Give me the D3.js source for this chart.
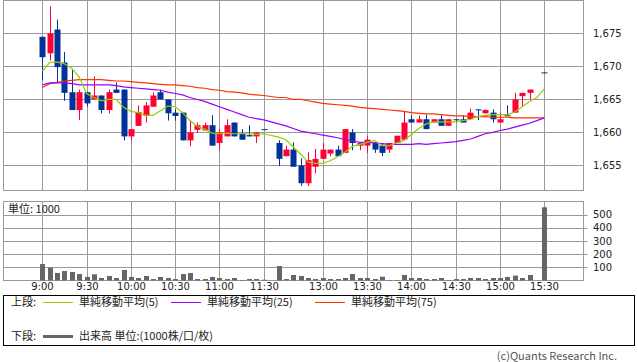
<!DOCTYPE html>
<html>
<head>
<meta charset="utf-8">
<script src="https://cdn.jsdelivr.net/npm/d3@7/dist/d3.min.js"></script>
<style>
  body { margin: 0; background: #fff; }
  svg text { font-family: "Noto Sans CJK JP", "Noto Sans", sans-serif; font-size: 11px; fill: #222; }
  svg text.num { font-family: "DejaVu Sans", sans-serif; font-size: 10px; }
</style>
</head>
<body>
<svg id="chart" width="638" height="362"></svg>
<script>
// 5-minute slots: 0 = 9:00 ... 30 = 11:30, 31 = lunch gap, 32 = 12:30 ... 68 = 15:30
const slotCount = 69;
const timeTicks = [0, 6, 12, 18, 24, 30, 38, 44, 50, 56, 62, 68];
const timeLabels = ["9:00", "9:30", "10:00", "10:30", "11:00", "11:30", "13:00", "13:30", "14:00", "14:30", "15:00", "15:30"];
const priceTicks = [1655, 1660, 1665, 1670, 1675];
const volumeTicks = [100, 200, 300, 400, 500];

const opens = [
  1674.5, 1672.0, 1675.6, 1670.6, 1666.1, 1663.4, 1666.1, 1665.0, 1665.6, 1663.4,
  1666.5, 1666.5, 1659.4, 1661.0, 1662.5, 1663.9, 1666.1, 1665.0, 1663.0, 1663.0,
  1658.8, 1660.4, 1660.3, 1661.1, 1658.4, 1659.4, 1661.5, 1659.8, 1659.6, 1659.4,
  1660.5, null, 1658.4, 1656.4, 1657.4, 1655.0, 1652.3, 1654.8, 1656.0, 1656.8,
  1657.4, 1656.9, 1660.0, 1658.0, 1658.0, 1658.5, 1658.0, 1657.4, 1658.4, 1658.9,
  1662.0, 1661.5, 1662.0, 1661.5, 1662.0, 1661.0, 1662.0, 1662.0, 1662.0, 1663.5,
  1662.9, 1663.0, 1661.5, 1662.6, 1663.0, 1665.5, 1666.0, null, 1669.1
];
const highs = [
  1674.5, 1679.1, 1677.1, 1672.2, 1669.5, 1666.5, 1666.1, 1668.5, 1665.6, 1666.5,
  1667.6, 1666.5, 1660.5, 1664.1, 1664.6, 1666.1, 1666.5, 1665.0, 1663.5, 1663.0,
  1661.8, 1661.5, 1661.5, 1662.6, 1660.5, 1662.0, 1661.5, 1660.5, 1661.1, 1660.0,
  1660.5, null, 1658.8, 1658.0, 1658.5, 1656.1, 1657.0, 1657.5, 1658.4, 1657.4,
  1658.0, 1660.5, 1660.5, 1658.4, 1659.4, 1658.5, 1658.4, 1658.4, 1659.5, 1663.1,
  1662.6, 1662.6, 1662.7, 1662.0, 1662.6, 1662.0, 1662.0, 1662.6, 1663.6, 1663.5,
  1663.5, 1663.5, 1663.0, 1664.1, 1666.0, 1666.0, 1666.5, null, 1669.1
];
const lows = [
  1667.9, 1670.9, 1667.5, 1664.8, 1663.4, 1661.9, 1663.9, 1665.0, 1662.9, 1662.9,
  1666.0, 1658.8, 1658.8, 1661.0, 1661.5, 1663.9, 1665.0, 1661.8, 1661.8, 1658.8,
  1657.9, 1659.9, 1660.3, 1658.0, 1657.3, 1659.4, 1659.4, 1658.9, 1659.4, 1658.4,
  1660.4, null, 1654.9, 1656.4, 1654.8, 1651.9, 1651.9, 1653.8, 1656.0, 1656.4,
  1656.4, 1656.9, 1657.3, 1657.3, 1656.9, 1656.9, 1656.4, 1656.9, 1658.4, 1658.9,
  1661.5, 1661.5, 1660.5, 1661.5, 1661.0, 1661.0, 1661.5, 1661.5, 1662.0, 1661.9,
  1662.9, 1661.5, 1661.5, 1662.5, 1663.0, 1664.0, 1665.0, null, 1669.0
];
const closes = [
  1671.4, 1675.0, 1669.9, 1666.0, 1663.4, 1666.1, 1664.4, 1665.6, 1663.4, 1666.1,
  1666.0, 1659.4, 1660.5, 1663.1, 1664.1, 1665.6, 1665.0, 1662.9, 1662.5, 1658.8,
  1660.0, 1661.1, 1661.1, 1658.0, 1660.0, 1661.1, 1659.4, 1658.9, 1659.4, 1660.0,
  1660.4, null, 1656.0, 1657.4, 1654.8, 1652.3, 1655.8, 1656.0, 1657.4, 1657.4,
  1656.4, 1660.5, 1658.4, 1658.4, 1658.9, 1657.4, 1656.9, 1658.4, 1659.5, 1661.5,
  1661.5, 1662.0, 1660.5, 1662.0, 1661.0, 1662.0, 1661.9, 1661.5, 1663.0, 1663.4,
  1663.4, 1662.0, 1662.0, 1662.5, 1665.0, 1666.0, 1666.5, null, 1669.0
];
const volumes = [
  125, 97, 57, 72, 65, 49, 27, 47, 19, 34,
  19, 80, 27, 19, 34, 11, 27, 19, 11, 49,
  57, 11, 11, 27, 19, 11, 19, 4, 11, 11,
  6, null, 110, 11, 42, 34, 19, 11, 19, 11,
  11, 19, 49, 19, 19, 11, 29, 4, 4, 42,
  19, 19, 11, 11, 19, 4, 11, 11, 19, 19,
  11, 19, 19, 27, 37, 19, 42, null, 556
];
const ma5 = [
  1669.3, 1670.6, 1670.7, 1670.4, 1669.7, 1668.4, 1665.9, 1665.3, 1664.8, 1665.0,
  1665.0, 1663.8, 1663.2, 1663.0, 1662.6, 1662.6, 1663.3, 1664.0, 1663.9, 1663.0,
  1661.8, 1660.9, 1660.5, 1659.9, 1659.8, 1659.9, 1659.8, 1659.8, 1659.8, 1659.7,
  1659.8, null, 1659.3, 1658.9, 1657.8, 1656.7, 1655.5, 1655.3, 1655.3, 1655.7,
  1656.3, 1657.0, 1657.9, 1658.2, 1658.5, 1658.8, 1658.0, 1658.0, 1658.4, 1658.8,
  1659.7, 1660.6, 1661.3, 1661.6, 1661.6, 1661.6, 1661.6, 1661.8, 1662.0, 1662.4,
  1662.6, 1662.7, 1662.7, 1662.7, 1663.1, 1663.9, 1664.7, 1665.3, 1666.6
];
const ma25 = [
  1667.2, 1667.5, 1667.5, 1667.5, 1667.4, 1667.2, 1667.2, 1667.2, 1667.2, 1667.2,
  1667.1, 1666.9, 1666.8, 1666.7, 1666.6, 1666.5, 1666.4, 1666.1, 1665.9, 1665.7,
  1665.3, 1665.0, 1664.7, 1664.3, 1663.9, 1663.5, 1663.1, 1662.7, 1662.3, 1662.1,
  1661.9, null, 1661.3, 1661.0, 1660.6, 1660.2, 1660.0, 1659.8, 1659.6, 1659.4,
  1659.2, 1658.9, 1658.7, 1658.5, 1658.5, 1658.4, 1658.3, 1658.2, 1658.2, 1658.2,
  1658.2, 1658.3, 1658.2, 1658.3, 1658.4, 1658.5, 1658.6, 1658.8, 1659.0, 1659.4,
  1659.8, 1660.0, 1660.3, 1660.5, 1660.8, 1661.1, 1661.4, 1661.8, 1662.2
];
const ma75 = [
  1666.8, 1667.4, 1667.6, 1667.8, 1667.9, 1668.0, 1668.0, 1668.0, 1668.0, 1667.9,
  1667.8, 1667.8, 1667.7, 1667.6, 1667.5, 1667.4, 1667.3, 1667.2, 1667.2, 1667.1,
  1667.0, 1666.8, 1666.7, 1666.5, 1666.4, 1666.2, 1666.1, 1666.0, 1665.8, 1665.7,
  1665.6, null, 1665.3, 1665.3, 1665.0, 1665.0, 1664.8, 1664.6, 1664.4, 1664.3,
  1664.2, 1664.1, 1664.0, 1663.8, 1663.7, 1663.6, 1663.5, 1663.4, 1663.3, 1663.2,
  1663.0, 1662.9, 1662.8, 1662.8, 1662.7, 1662.6, 1662.5, 1662.5, 1662.4, 1662.4,
  1662.4, 1662.3, 1662.3, 1662.3, 1662.2, 1662.2, 1662.2, 1662.2, 1662.2
];

const svg = d3.select("#chart");
const gridColor = "#999";
const upColor = "#ff0033", downColor = "#003399";

const left = 3.5, right = 583.5;
const x = d3.scaleLinear().domain([0, slotCount - 1]).range([42.3, 544.3]);
const y = d3.scaleLinear().domain([1651.2, 1680]).range([190.5, 0.5]);
const yv = d3.scaleLinear().domain([0, 600]).range([280.5, 201.5]);
const px = i => Math.round(x(i)) + 0.5;
const slots = d3.range(slotCount);

// ---- price panel ----
const main = svg.append("g");
main.selectAll(".hgrid").data(priceTicks).join("line")
  .attr("x1", left).attr("x2", right)
  .attr("y1", d => Math.round(y(d)) + 0.5).attr("y2", d => Math.round(y(d)) + 0.5)
  .attr("stroke", gridColor);
main.selectAll(".vgrid").data(timeTicks).join("line")
  .attr("x1", d => px(d)).attr("x2", d => px(d))
  .attr("y1", 0.5).attr("y2", 190.5)
  .attr("stroke", gridColor);
main.append("rect")
  .attr("x", left).attr("y", 0.5).attr("width", right - left).attr("height", 190)
  .attr("fill", "none").attr("stroke", gridColor);
main.selectAll(".plabel").data(priceTicks).join("text")
  .attr("class", "num")
  .attr("x", 593).attr("y", d => y(d)).attr("dy", "0.35em")
  .text(d => d3.format(",")(d));

// candles
slots.forEach(i => {
  if (opens[i] == null) return;
  const cx = px(i);
  const color = closes[i] > opens[i] ? upColor : downColor;
  main.append("line")
    .attr("x1", cx).attr("x2", cx)
    .attr("y1", y(highs[i])).attr("y2", y(lows[i]))
    .attr("stroke", color);
  const top = y(Math.max(opens[i], closes[i]));
  const bot = y(Math.min(opens[i], closes[i]));
  main.append("rect")
    .attr("x", cx - 3).attr("y", top)
    .attr("width", 6).attr("height", Math.max(1, bot - top))
    .attr("fill", color);
});

// moving averages
const maSeries = [
  { values: ma75, color: "#ff3300" },
  { values: ma25, color: "#9900ff" },
  { values: ma5, color: "#99cc00" }
];
maSeries.forEach(s => {
  const pts = slots.filter(i => s.values[i] != null);
  main.append("path")
    .datum(pts)
    .attr("d", d3.line().x(i => x(i)).y(i => y(s.values[i])))
    .attr("fill", "none")
    .attr("stroke", s.color)
    .attr("stroke-width", 1.2);
});

// ---- volume panel ----
const vol = svg.append("g");
vol.selectAll(".vhgrid").data(volumeTicks).join("line")
  .attr("x1", left).attr("x2", right + 4)
  .attr("y1", d => Math.round(yv(d)) + 0.5).attr("y2", d => Math.round(yv(d)) + 0.5)
  .attr("stroke", gridColor);
vol.selectAll(".vvgrid").data(timeTicks).join("line")
  .attr("x1", d => px(d)).attr("x2", d => px(d))
  .attr("y1", 201.5).attr("y2", 280.5)
  .attr("stroke", gridColor);
vol.append("rect")
  .attr("x", left).attr("y", 201.5).attr("width", right - left).attr("height", 79)
  .attr("fill", "none").attr("stroke", gridColor);
vol.selectAll(".bar").data(slots.filter(i => volumes[i] != null)).join("rect")
  .attr("x", i => px(i) - 2.5).attr("width", 5)
  .attr("y", i => yv(volumes[i])).attr("height", i => yv(0) - yv(volumes[i]))
  .attr("fill", "#666");
vol.selectAll(".vlabel").data(volumeTicks).join("text")
  .attr("class", "num")
  .attr("x", 593).attr("y", d => yv(d)).attr("dy", "0.35em")
  .text(d => d);
vol.append("text").attr("x", 8).attr("y", 209).attr("dy", "0.35em").text("単位: 1000");

svg.selectAll(".tlabel").data(timeTicks).join("text")
  .attr("class", "num")
  .attr("x", d => px(d)).attr("y", 286).attr("dy", "0.35em")
  .attr("text-anchor", "middle")
  .text((d, k) => timeLabels[k]);

// ---- legend ----
const lg = svg.append("g");
lg.append("rect")
  .attr("x", 3.5).attr("y", 295.5).attr("width", 631).attr("height", 50)
  .attr("fill", "none").attr("stroke", "#000");
lg.append("text").attr("x", 11).attr("y", 302).attr("dy", "0.35em").text("上段:");
const legendItems = [
  { label: "単純移動平均(5)", color: "#99cc00", x0: 43 },
  { label: "単純移動平均(25)", color: "#9900ff", x0: 171 },
  { label: "単純移動平均(75)", color: "#ff3300", x0: 315 }
];
legendItems.forEach(d => {
  lg.append("line").attr("x1", d.x0).attr("x2", d.x0 + 30)
    .attr("y1", 302.5).attr("y2", 302.5).attr("stroke", d.color);
  lg.append("text").attr("x", d.x0 + 36).attr("y", 302).attr("dy", "0.35em").text(d.label);
});
lg.append("text").attr("x", 11).attr("y", 336).attr("dy", "0.35em").text("下段:");
lg.append("line").attr("x1", 43).attr("x2", 73).attr("y1", 336.5).attr("y2", 336.5)
  .attr("stroke", "#666").attr("stroke-width", 3);
lg.append("text").attr("x", 79).attr("y", 336).attr("dy", "0.35em").text("出来高 単位:(1000株/口/枚)");

svg.append("text").attr("x", 617).attr("y", 356).attr("dy", "0.35em")
  .attr("text-anchor", "end").style("fill", "#555")
  .text("(c)Quants Research Inc.");
</script>
</body>
</html>
